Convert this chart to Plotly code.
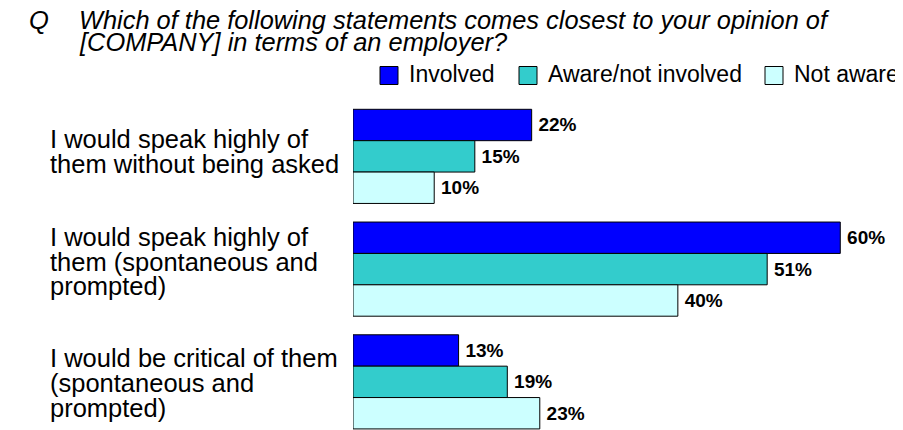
import plotly.graph_objects as go

# ---------------- data ----------------
categories = [
    "I would speak highly of<br>them without being asked",
    "I would speak highly of<br>them (spontaneous and<br>prompted)",
    "I would be critical of them<br>(spontaneous and<br>prompted)",
]
series_names = ["Involved", "Aware/not involved", "Not aware"]
involved = [22, 60, 13]
aware_not_involved = [15, 51, 19]
not_aware = [10, 40, 23]
series_values = [involved, aware_not_involved, not_aware]
series_colors = ["#0000FF", "#33CCCC", "#CCFFFF"]
question_mark = "Q"
title_lines = [
    "Which of the following statements comes closest to your opinion of",
    "[COMPANY] in terms of an employer?",
]

# ---------------- layout geometry ----------------
OFF = 8  # page body margin of the html page
W, H = 903 - OFF, 430 - OFF
ML, MR, MT, MB = 353 - OFF, 14, 100 - OFF, 0
PW, PH = W - ML - MR, H - MT - MB
FONT = "Liberation Sans, Arial, Helvetica, sans-serif"


def pxx(x):
    """screen x pixel -> paper x"""
    return (x - OFF - ML) / PW


def pyy(y):
    """screen y pixel -> paper y"""
    return (H - MB - (y - OFF)) / PH


fig = go.Figure()
for name, vals, col in zip(series_names, series_values, series_colors):
    fig.add_trace(go.Bar(
        y=categories, x=vals, orientation="h", name=name,
        marker=dict(color=col, line=dict(color="#000000", width=1)),
        text=[f"\u2009{v}%" for v in vals], textposition="outside",
        textfont=dict(family=FONT, size=19, color="#000000", weight="bold"),
        constraintext="none", cliponaxis=False, showlegend=False,
        hoverinfo="skip",
    ))

annotations = []
shapes = []

# Title
annotations.append(dict(text=question_mark, x=pxx(27), y=pyy(20.5), xref="paper", yref="paper",
                        xanchor="left", yanchor="middle", showarrow=False,
                        font=dict(family=FONT, size=25.5, color="#000000", style="italic")))
for line, ycen in zip(title_lines, [20.5, 41.5]):
    annotations.append(dict(text=line, x=pxx(77), y=pyy(ycen), xref="paper", yref="paper",
                            xanchor="left", yanchor="middle", showarrow=False,
                            font=dict(family=FONT, size=25.4, color="#000000", style="italic")))

# Category labels, one annotation per line (tight line spacing)
line_centers = [[139.4, 164.4], [236.8, 261.8, 286.1], [357.8, 382.8, 407.8]]
for cat, centers in zip(categories, line_centers):
    for line, yc in zip(cat.split("<br>"), centers):
        annotations.append(dict(text=line, x=pxx(48), y=pyy(yc), xref="paper", yref="paper",
                                xanchor="left", yanchor="middle", showarrow=False,
                                font=dict(family=FONT, size=25.5, color="#000000")))

# Legend (manual, large swatches)
legend_swatch_x = [380, 519, 765]
for name, col, sx in zip(series_names, series_colors, legend_swatch_x):
    shapes.append(dict(type="rect", xref="paper", yref="paper",
                       x0=pxx(sx), x1=pxx(sx + 18), y0=pyy(84.5), y1=pyy(66.5),
                       fillcolor=col, line=dict(color="#000000", width=1)))
    annotations.append(dict(text=name, x=pxx(sx + 27), y=pyy(74.5), xref="paper", yref="paper",
                            xanchor="left", yanchor="middle", showarrow=False,
                            font=dict(family=FONT, size=23, color="#000000")))

fig.update_layout(
    width=W, height=H,
    margin=dict(l=ML, r=MR, t=MT, b=MB, pad=0),
    paper_bgcolor="#FFFFFF", plot_bgcolor="#FFFFFF",
    barmode="group", bargap=0.165, bargroupgap=0,
    showlegend=False,
    xaxis=dict(range=[0, 66], visible=False, fixedrange=True),
    yaxis=dict(range=[2.427, -0.5], showticklabels=False, showgrid=False,
               zeroline=False, showline=False, ticks="", fixedrange=True),
    annotations=annotations, shapes=shapes,
    font=dict(family=FONT, color="#000000"),
)

fig.write_html("out.html")
